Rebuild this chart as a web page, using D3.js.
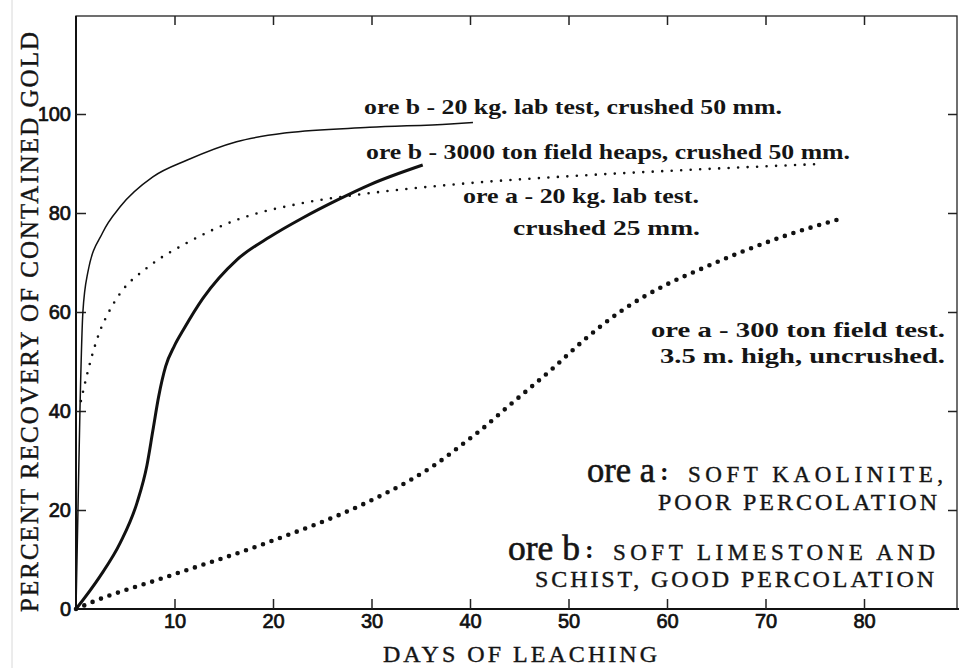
<!DOCTYPE html>
<html><head><meta charset="utf-8">
<script src="https://cdn.jsdelivr.net/npm/d3@7"></script>
<style>
html,body{margin:0;padding:0;background:#fff;}
svg{display:block;}
</style></head>
<body>
<svg id="chart" width="959" height="668"></svg>
<script>
// ---- data ----
const xTicks = [10, 20, 30, 40, 50, 60, 70, 80];
const yTicks = [0, 20, 40, 60, 80, 100];

// ore b - 20 kg lab test, crushed 50 mm (thin solid)
const oreBLabDays = [0, 0.2, 0.4, 0.7, 1.2, 2.7, 4.5, 7.8, 11.3, 16.3, 21.4, 29.8, 38, 40.3];
const oreBLabRec  = [0, 20, 40, 60, 68, 76, 81.3, 87.3, 90.7, 94.4, 96.2, 97.3, 98, 98.3];

// ore b - 3000 ton field heaps, crushed 50 mm (thick solid)
const oreBFieldDays = [0, 2.4, 4.5, 6.2, 7.2, 7.8, 8.4, 9.1, 10, 10.9, 12.9, 16.3, 19.7, 23, 26.5, 29.8, 35.2];
const oreBFieldRec  = [0, 6.5, 13.4, 21.5, 29, 36, 43, 49, 53.2, 56.4, 62.8, 70.5, 75.2, 79, 82.6, 85.7, 89.7];

// ore a - 20 kg lab test, crushed 25 mm (fine dots)
const oreALabDays = [0.5, 1.2, 1.6, 2.5, 3.2, 4.5, 7.2, 11.3, 16.3, 23, 29.8, 38, 51.5, 60, 75.5];
const oreALabRec  = [42, 48, 51, 56.5, 59.5, 63.8, 68.9, 74, 78.6, 82, 84, 85.7, 87.6, 88.5, 89.9];

// ore a - 300 ton field test, 3.5 m high, uncrushed (heavy dots)
const oreAFieldDays = [0, 1.4, 9.2, 19.4, 29.5, 33.9, 36.2, 39.7, 41, 43.8, 48.4, 51.5, 55.2, 60, 63, 67.4, 72, 77.4];
const oreAFieldRec  = [0, 1.2, 6.5, 13.4, 21.5, 26, 28.8, 34, 36, 40.8, 48.6, 54.2, 60, 65.6, 68.3, 72, 75.4, 78.7];

const curveLabels = [
  "ore b - 20 kg. lab test, crushed 50 mm.",
  "ore b - 3000 ton field heaps, crushed 50 mm.",
  "ore a - 20 kg. lab test.",
  "crushed 25 mm.",
  "ore a - 300 ton field test.",
  "3.5 m. high, uncrushed."
];
const xTitle = "DAYS  OF  LEACHING";
const yTitle = "PERCENT  RECOVERY  OF  CONTAINED  GOLD";

(function () {
// ---- layout ----
const svg = d3.select("#chart");
const x = d3.scaleLinear().domain([0, 80]).range([76, 864]);
const y = d3.scaleLinear().domain([0, 100]).range([609, 114]);
const pLeft = x(0), pBottom = y(0), pTop = 16, pRight = 957;

const serif = "'Liberation Serif','Times New Roman',serif";
const sans = "'Liberation Sans',Arial,sans-serif";

// faint scan edge
svg.append("line").attr("x1", 12).attr("x2", 12).attr("y1", 0).attr("y2", 668)
  .attr("stroke", "#d8d8d8").attr("stroke-width", 1);

// frame
svg.append("rect").attr("x", pLeft).attr("y", pTop)
  .attr("width", pRight - pLeft).attr("height", pBottom - pTop)
  .attr("fill", "none").attr("stroke", "#222").attr("stroke-width", 1.3);
svg.append("line").attr("x1", pLeft).attr("x2", pLeft).attr("y1", pTop).attr("y2", pBottom)
  .attr("stroke", "#111").attr("stroke-width", 2);
svg.append("line").attr("x1", pLeft).attr("x2", 959).attr("y1", pBottom).attr("y2", pBottom)
  .attr("stroke", "#111").attr("stroke-width", 2);

function styleAxis(g, showLabels) {
  g.select(".domain").remove();
  g.selectAll(".tick line").attr("stroke", "#222").attr("stroke-width", 1.5);
  if (!showLabels) g.selectAll(".tick text").remove();
  else g.selectAll(".tick text").attr("fill", "#111").attr("stroke", "#111").attr("stroke-width", 0.7)
        .style("font-family", sans).style("font-size", "20px");
}

svg.append("g").attr("transform", `translate(0,${pBottom})`)
  .call(d3.axisBottom(x).tickValues(xTicks).tickSize(-10).tickPadding(5).tickFormat(d3.format("d")))
  .call(g => styleAxis(g, true));
svg.append("g").attr("transform", `translate(${pLeft},0)`)
  .call(d3.axisLeft(y).tickValues(yTicks).tickSize(-10).tickPadding(5).tickFormat(d3.format("d")))
  .call(g => styleAxis(g, true))
  .call(g => g.selectAll(".tick").filter(d => d === 0).select("line").remove());
svg.append("g").attr("transform", `translate(0,${pTop})`)
  .call(d3.axisTop(x).tickValues(xTicks).tickSize(-9))
  .call(g => styleAxis(g, false));
svg.append("g").attr("transform", `translate(${pRight},0)`)
  .call(d3.axisRight(y).tickValues(yTicks.slice(1)).tickSize(-9))
  .call(g => styleAxis(g, false));

// curves
const line = d3.line().x(d => x(d[0])).y(d => y(d[1])).curve(d3.curveMonotoneX);
const zip = (a, b) => a.map((v, i) => [v, b[i]]);

svg.append("path").datum(zip(oreBLabDays, oreBLabRec)).attr("d", line)
  .attr("fill", "none").attr("stroke", "#111").attr("stroke-width", 1.5);
svg.append("path").datum(zip(oreBFieldDays, oreBFieldRec)).attr("d", line)
  .attr("fill", "none").attr("stroke", "#111").attr("stroke-width", 3);
svg.append("path").datum(zip(oreALabDays, oreALabRec)).attr("d", line)
  .attr("fill", "none").attr("stroke", "#111").attr("stroke-width", 2.6)
  .attr("stroke-linecap", "round").attr("stroke-dasharray", "0,9.5");
svg.append("path").datum(zip(oreAFieldDays, oreAFieldRec)).attr("d", line)
  .attr("fill", "none").attr("stroke", "#111").attr("stroke-width", 4.6)
  .attr("stroke-linecap", "round").attr("stroke-dasharray", "0,9");

// curve labels
const labelPos = [
  {x: 364, y: 114, w: 418},
  {x: 366, y: 159, w: 484},
  {x: 463, y: 203, w: 236},
  {x: 513, y: 235, w: 187},
  {x: 651, y: 337, w: 294},
  {x: 660, y: 363, w: 285}
];
curveLabels.forEach((t, i) => {
  const p = labelPos[i];
  svg.append("text").attr("x", p.x).attr("y", p.y).text(t)
    .attr("textLength", p.w).attr("lengthAdjust", "spacingAndGlyphs")
    .style("font-family", serif).style("font-size", "22px").style("font-weight", "bold")
    .attr("fill", "#151515");
});

// ore legend
function capsText(t, tx, ty, w, fs) {
  svg.append("text").attr("x", tx).attr("y", ty).text(t)
    .attr("textLength", w).attr("lengthAdjust", "spacing")
    .style("font-family", serif).style("font-size", (fs || 24) + "px").attr("fill", "#151515")
    .attr("stroke", "#151515").attr("stroke-width", 0.4);
}
function oreLine(big, bx, y0, w0, caps, cx, cw) {
  svg.append("text").attr("x", bx).attr("y", y0).text(big)
    .attr("textLength", w0).attr("lengthAdjust", "spacingAndGlyphs")
    .style("font-family", serif).style("font-size", "35px").attr("fill", "#151515")
    .attr("stroke", "#151515").attr("stroke-width", 0.6);
  svg.append("text").attr("x", bx + w0 + 5).attr("y", y0 - 2).text(":")
    .style("font-family", serif).style("font-size", "26px").style("font-weight", "bold").attr("fill", "#151515");
  capsText(caps, cx, y0, cw, 23);
}
oreLine("ore a", 587, 482, 68, "SOFT  KAOLINITE,", 688, 255);
capsText("POOR PERCOLATION", 658, 510, 279);
oreLine("ore b", 508, 560, 72, "SOFT  LIMESTONE  AND", 613, 322);
capsText("SCHIST, GOOD PERCOLATION", 535, 587, 399);

// axis titles
capsText(xTitle, 383, 662, 274, 24);
svg.append("text").attr("transform", "translate(38,612) rotate(-90)").text(yTitle)
  .attr("textLength", 580).attr("lengthAdjust", "spacing")
  .style("font-family", serif).style("font-size", "25px").attr("fill", "#151515")
  .attr("stroke", "#151515").attr("stroke-width", 0.4);
})();
</script>
</body></html>
